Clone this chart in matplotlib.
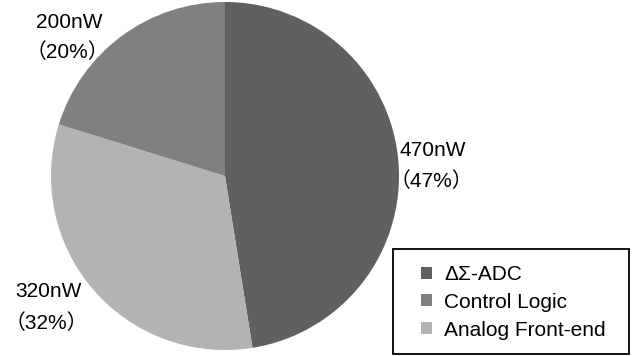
import matplotlib.pyplot as plt
from matplotlib.patches import Rectangle

# data (clockwise from the top)
labels = ['ΔΣ-ADC', 'Analog Front-end', 'Control Logic']
power_nw = [470, 320, 200]
percents = [47, 32, 20]
colors = ['#606060', '#b3b3b3', '#808080']
legend_order = [0, 2, 1]

fam = ['Liberation Sans Narrow', 'Liberation Sans', 'Noto Sans CJK SC']
plt.rcParams['font.family'] = fam

W, H = 635, 356
fig = plt.figure(figsize=(W / 100, H / 100), dpi=100)

def fx(x):
    return x / W

def fy(y):
    return 1 - y / H

cx, cy, r = 225, 176, 174
ax = fig.add_axes([(cx - r) / W, (H - cy - r) / H, 2 * r / W, 2 * r / H])
wedges, _ = ax.pie(power_nw, colors=colors, startangle=90, counterclock=False,
                   radius=1.0, wedgeprops=dict(linewidth=0))
ax.set_xlim(-1, 1)
ax.set_ylim(-1, 1)
ax.set_aspect('equal')
ax.axis('off')

# label positions in pixels (left, baseline of line 1, baseline of line 2)
label_pos = [(400, 156, 187), (15, 297, 329), (36, 28, 58)]
for (x, y1, y2), p, pc in zip(label_pos, power_nw, percents):
    fig.text(fx(x), fy(y1), f'{p}nW', fontsize=15, ha='left', va='baseline')
    fig.text(fx(x - 10), fy(y2), f'（{pc}%）', fontsize=15, ha='left', va='baseline')

leg = fig.legend([wedges[i] for i in legend_order],
                 [labels[i] for i in legend_order],
                 loc='upper left', bbox_to_anchor=(fx(421), fy(265)),
                 fontsize=15, frameon=False,
                 handlelength=0.52, handleheight=0.52, handletextpad=0.6,
                 borderpad=0, labelspacing=0.42, borderaxespad=0)

# legend frame
fig.patches.append(Rectangle((fx(393), fy(354)), fx(629) - fx(393), fy(249) - fy(354),
                             transform=fig.transFigure, fill=False,
                             edgecolor='black', linewidth=1.3))

fig.savefig('out.png', dpi=100)
